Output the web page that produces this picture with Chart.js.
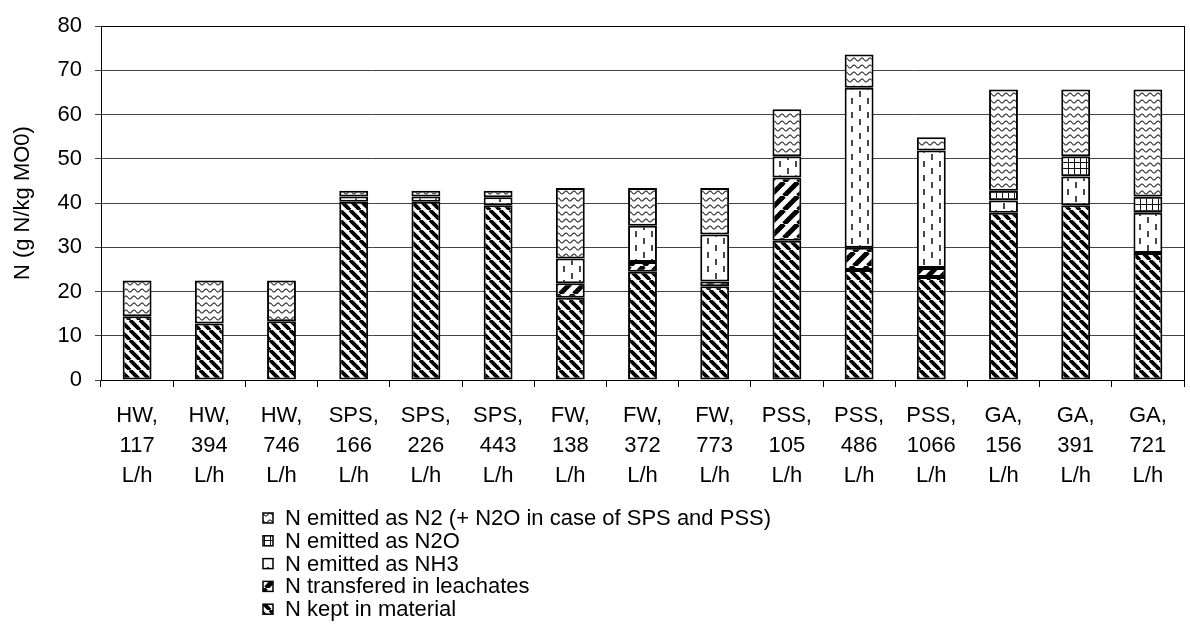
<!DOCTYPE html>
<html>
<head>
<meta charset="utf-8">
<script src="https://cdn.jsdelivr.net/npm/chart.js@4"></script>
<style>
  html, body { margin: 0; padding: 0; background: #fff; }
  #chart { display: block; }
</style>
</head>
<body>
<canvas id="chart" width="1190" height="642"></canvas>
<script>
// ---- data (g N / kg MO0) ----
const categories = [
    ['HW,', '117', 'L/h'], ['HW,', '394', 'L/h'], ['HW,', '746', 'L/h'],
    ['SPS,', '166', 'L/h'], ['SPS,', '226', 'L/h'], ['SPS,', '443', 'L/h'],
    ['FW,', '138', 'L/h'], ['FW,', '372', 'L/h'], ['FW,', '773', 'L/h'],
    ['PSS,', '105', 'L/h'], ['PSS,', '486', 'L/h'], ['PSS,', '1066', 'L/h'],
    ['GA,', '156', 'L/h'], ['GA,', '391', 'L/h'], ['GA,', '721', 'L/h']
];
const keptInMaterial = [14.4, 12.8, 13.3, 40.3, 40.3, 39.5, 18.6, 24.5, 21.2, 31.5, 24.9, 23.3, 37.8, 39.5, 28.7];
const leachates      = [0, 0, 0, 0, 0, 0, 3.3, 2.2, 1.1, 14.3, 5.0, 2.0, 0, 0, 0];
const emittedNH3     = [0, 0, 0, 1.2, 1.2, 1.8, 5.6, 8.2, 10.6, 4.8, 36.2, 26.6, 2.8, 6.5, 9.1];
const emittedN2O     = [0, 0, 0, 0, 0, 0, 0, 0, 0, 0, 0, 0, 2.2, 4.6, 3.7];
const emittedN2      = [8.1, 9.7, 9.2, 1.3, 1.3, 1.5, 15.9, 8.5, 10.5, 10.6, 7.5, 3.0, 22.9, 15.1, 24.2];
const yTicks = [0, 10, 20, 30, 40, 50, 60, 70, 80];

const FONT = "'Liberation Sans', Arial, sans-serif";
const FONT_SIZE = 22;

// ---- fill patterns (black & white hatching) ----
function makePattern(w, h, draw) {
    const c = document.createElement('canvas');
    c.width = w; c.height = h;
    const g = c.getContext('2d');
    g.fillStyle = '#fff';
    g.fillRect(0, 0, w, h);
    draw(g, w, h);
    return g.createPattern(c, 'repeat');
}

const patKept = makePattern(10, 10, (g, s) => {
    g.strokeStyle = '#000'; g.lineWidth = 3.8;
    for (let k = -1; k <= 1; k++) {
        g.beginPath(); g.moveTo(k * s, 0); g.lineTo(k * s + s, s); g.stroke();
    }
});
const patLeach = makePattern(14, 14, (g, s) => {
    g.strokeStyle = '#000'; g.lineWidth = 5;
    for (let k = -1; k <= 1; k++) {
        g.beginPath(); g.moveTo(k * s, s); g.lineTo(k * s + s, 0); g.stroke();
    }
});
const patNH3 = makePattern(16, 14, (g) => {
    g.strokeStyle = '#333'; g.lineWidth = 1.8;
    g.beginPath(); g.moveTo(4, 0); g.lineTo(4, 6); g.stroke();
    g.beginPath(); g.moveTo(12, 7); g.lineTo(12, 13); g.stroke();
});
const patN2O = makePattern(6, 6, (g) => {
    g.strokeStyle = '#111'; g.lineWidth = 1;
    g.beginPath(); g.moveTo(0.5, 0); g.lineTo(0.5, 6); g.stroke();
    g.beginPath(); g.moveTo(0, 0.5); g.lineTo(6, 0.5); g.stroke();
});
const patN2 = makePattern(8, 7, (g) => {
    g.strokeStyle = '#444'; g.lineWidth = 1.3;
    g.beginPath();
    for (let x = 0; x <= 8; x += 0.5) {
        const y = 3.5 + 1.4 * Math.sin(2 * Math.PI * x / 8);
        if (x === 0) g.moveTo(x, y); else g.lineTo(x, y);
    }
    g.stroke();
});

function series(label, data, pattern) {
    return {
        label, data,
        backgroundColor: pattern,
        borderColor: '#000',
        borderWidth: 2,
        borderSkipped: false,
        categoryPercentage: 1.0,
        barPercentage: 0.4
    };
}

// box round the plot area
const plotBox = {
    id: 'plotBox',
    beforeDatasetsDraw(chart) {
        const a = chart.chartArea, ctx = chart.ctx;
        ctx.save();
        ctx.strokeStyle = '#000';
        ctx.lineWidth = 1;
        ctx.strokeRect(Math.round(a.left) + 0.5, Math.round(a.top) + 0.5,
            Math.round(a.right - a.left), Math.round(a.bottom - a.top));
        ctx.restore();
    }
};

// vertical legend under the axis, last series first
const stackLegend = {
    id: 'stackLegend',
    afterDraw(chart) {
        const ctx = chart.ctx;
        const sets = chart.data.datasets.slice().reverse();
        const x0 = 263, y0 = 518, step = 22.8, box = 10;
        ctx.save();
        ctx.font = FONT_SIZE + 'px ' + FONT;
        ctx.textBaseline = 'middle';
        sets.forEach((ds, i) => {
            const y = y0 + i * step;
            ctx.fillStyle = ds.backgroundColor;
            ctx.fillRect(x0, y - box / 2, box, box);
            ctx.strokeStyle = '#000';
            ctx.lineWidth = 1.5;
            ctx.strokeRect(x0, y - box / 2, box, box);
            ctx.fillStyle = '#000';
            ctx.fillText(ds.label, x0 + box + 12, y + 1);
        });
        ctx.restore();
    }
};

new Chart(document.getElementById('chart'), {
    type: 'bar',
    data: {
        labels: categories,
        datasets: [
            series('N kept in material', keptInMaterial, patKept),
            series('N transfered in leachates', leachates, patLeach),
            series('N emitted as NH3', emittedNH3, patNH3),
            series('N emitted as N2O', emittedN2O, patN2O),
            series('N emitted as N2 (+ N2O in case of SPS and PSS)', emittedN2, patN2)
        ]
    },
    options: {
        responsive: false,
        animation: false,
        layout: { padding: { top: 19, right: 6, bottom: 0, left: 0 } },
        plugins: {
            legend: { display: false },
            tooltip: { enabled: false }
        },
        scales: {
            x: {
                stacked: true,
                afterFit: (scale) => { scale.height = 262; },
                grid: {
                    offset: true,
                    drawOnChartArea: false,
                    drawTicks: true,
                    tickLength: 7,
                    color: '#000'
                },
                border: { color: '#000', width: 1 },
                ticks: {
                    color: '#000',
                    padding: 14,
                    maxRotation: 0,
                    autoSkip: false,
                    font: { family: FONT, size: FONT_SIZE, lineHeight: 1.36 }
                }
            },
            y: {
                stacked: true,
                min: 0,
                max: 80,
                afterFit: (scale) => { scale.width = 101; },
                afterBuildTicks: (scale) => { scale.ticks = yTicks.map(v => ({ value: v })); },
                grid: {
                    color: '#444',
                    lineWidth: 1,
                    drawTicks: true,
                    tickLength: 6
                },
                border: { color: '#000', width: 1 },
                ticks: {
                    color: '#000',
                    padding: 13,
                    font: { family: FONT, size: FONT_SIZE }
                },
                title: {
                    display: true,
                    text: 'N (g N/kg MO0)',
                    color: '#000',
                    padding: { top: 10, bottom: 0 },
                    font: { family: FONT, size: FONT_SIZE }
                }
            }
        }
    },
    plugins: [plotBox, stackLegend]
});
</script>
</body>
</html>
